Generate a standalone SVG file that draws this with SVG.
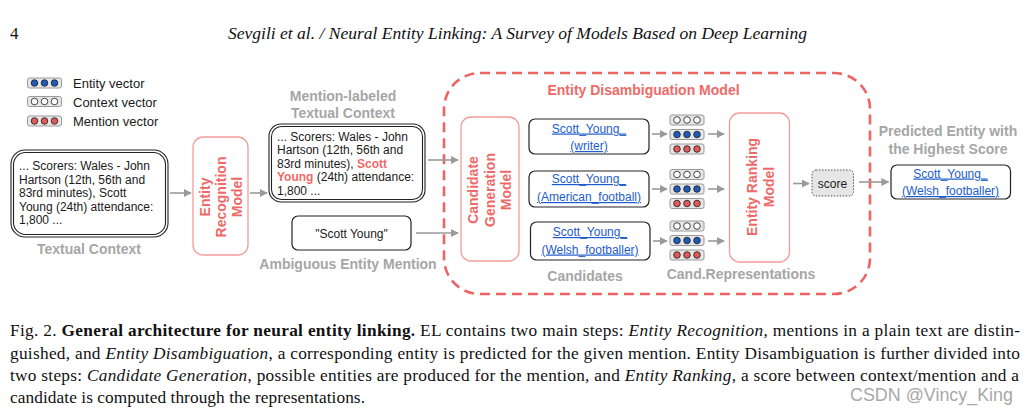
<svg xmlns="http://www.w3.org/2000/svg" width="1030" height="411" viewBox="0 0 1030 411">
<style>
.sans{font-family:"Liberation Sans",Arial,sans-serif}
.serif{font-family:"Liberation Serif","Times New Roman",serif}
.t12{font-size:12px;fill:#1a1a1a}
.lbl{font-family:"Liberation Sans",Arial,sans-serif;font-size:14px;font-weight:bold;fill:#a6a6a6}
.red{fill:#ee6a68}
.rlbl{font-family:"Liberation Sans",Arial,sans-serif;font-size:14px;font-weight:bold;fill:#ee6a68}
.mbox{fill:#fff;stroke:#f29c9a;stroke-width:1.3}
.tbox{fill:#fff;stroke:#222;stroke-width:1.2}
.link{font-family:"Liberation Sans",Arial,sans-serif;font-size:12px;fill:#1d5ccc;text-decoration:underline}
.vb{fill:#e6e6e6;stroke:#9a9a9a;stroke-width:1}
.ce{fill:#1f5bb8;stroke:#1a1a1a;stroke-width:0.8}
.cc{fill:#fff;stroke:#1a1a1a;stroke-width:0.8}
.cm{fill:#e05a5a;stroke:#1a1a1a;stroke-width:0.8}
.arr{stroke:#9a9a9a;stroke-width:1.6;fill:none;marker-end:url(#ah)}
.cap{font-family:"Liberation Serif","Times New Roman",serif;font-size:17.3px;fill:#111}
</style>
<defs>
<marker id="ah" viewBox="0 0 10 10" refX="9" refY="5" markerWidth="5" markerHeight="5" orient="auto" markerUnits="strokeWidth">
<path d="M0,0 L10,5 L0,10 z" fill="#9a9a9a"/>
</marker>
<g id="ve"><rect class="vb" x="0" y="0" width="34" height="10" rx="2"/><circle class="ce" cx="7" cy="5" r="3.3"/><circle class="ce" cx="17" cy="5" r="3.3"/><circle class="ce" cx="27" cy="5" r="3.3"/></g>
<g id="vc"><rect class="vb" x="0" y="0" width="34" height="10" rx="2"/><circle class="cc" cx="7" cy="5" r="3.3"/><circle class="cc" cx="17" cy="5" r="3.3"/><circle class="cc" cx="27" cy="5" r="3.3"/></g>
<g id="vm"><rect class="vb" x="0" y="0" width="34" height="10" rx="2"/><circle class="cm" cx="7" cy="5" r="3.3"/><circle class="cm" cx="17" cy="5" r="3.3"/><circle class="cm" cx="27" cy="5" r="3.3"/></g>
</defs>
<rect width="1030" height="411" fill="#fff"/>

<!-- header -->
<text class="serif" x="10" y="39" font-size="17" fill="#111">4</text>
<text class="serif" x="228" y="39" font-size="17" font-style="italic" fill="#111" textLength="579" lengthAdjust="spacingAndGlyphs">Sevgili et al. / Neural Entity Linking: A Survey of Models Based on Deep Learning</text>

<!-- legend -->
<g id="legend">
<use href="#ve" x="27.5" y="78"/>
<use href="#vc" x="27.5" y="96.5"/>
<use href="#vm" x="27.5" y="116"/>
<text class="sans" x="73" y="88" font-size="13" fill="#1a1a1a">Entity vector</text>
<text class="sans" x="73" y="106.5" font-size="13" fill="#1a1a1a">Context vector</text>
<text class="sans" x="73" y="126" font-size="13" fill="#1a1a1a">Mention vector</text>
</g>

<!-- dashed container -->
<g id="ed-model">
<rect x="444" y="73" width="426" height="221" rx="36" fill="none" stroke="#ee6464" stroke-width="2.6" stroke-dasharray="10 6"/>
<text class="rlbl" x="643.5" y="95" text-anchor="middle">Entity Disambiguation Model</text>
</g>

<!-- textual context -->
<g id="textual-context">
<rect x="11" y="150" width="157" height="87" rx="14" fill="#fff" stroke="#222" stroke-width="1.1"/>
<rect x="13.5" y="152.5" width="152" height="82" rx="12" fill="none" stroke="#222" stroke-width="1.1"/>
<text class="sans t12" x="19" y="170">... Scorers: Wales - John</text>
<text class="sans t12" x="19" y="183.5">Hartson (12th, 56th and</text>
<text class="sans t12" x="19" y="197">83rd minutes), Scott</text>
<text class="sans t12" x="19" y="210.5">Young (24th) attendance:</text>
<text class="sans t12" x="19" y="224">1,800 ...</text>
<text class="lbl" x="89" y="254" text-anchor="middle">Textual Context</text>
</g>

<!-- entity recognition model -->
<g id="er-model">
<rect class="mbox" x="193" y="137" width="55" height="118" rx="10"/>
<g transform="translate(221,197) rotate(-90)">
<text class="rlbl" x="0" y="-16" text-anchor="middle" dominant-baseline="central">Entity</text>
<text class="rlbl" x="0" y="0" text-anchor="middle" dominant-baseline="central">Recognition</text>
<text class="rlbl" x="0" y="16" text-anchor="middle" dominant-baseline="central">Model</text>
</g>
</g>

<!-- mention-labeled context -->
<g id="mention-labeled">
<text class="lbl" x="343" y="101" text-anchor="middle">Mention-labeled</text>
<text class="lbl" x="343" y="117.5" text-anchor="middle">Textual Context</text>
<rect x="269" y="124" width="156" height="78" rx="12" fill="#fff" stroke="#222" stroke-width="1.1"/>
<rect x="271.5" y="126.5" width="151" height="73" rx="10" fill="none" stroke="#222" stroke-width="1.1"/>
<text class="sans t12" x="277" y="140.5">... Scorers: Wales - John</text>
<text class="sans t12" x="277" y="154">Hartson (12th, 56th and</text>
<text class="sans t12" x="277" y="167.5">83rd minutes), <tspan font-weight="bold" class="red">Scott</tspan></text>
<text class="sans t12" x="277" y="181"><tspan font-weight="bold" class="red">Young</tspan> (24th) attendance:</text>
<text class="sans t12" x="277" y="194.5">1,800 ...</text>
</g>

<!-- ambiguous mention -->
<g id="ambiguous-mention">
<rect class="tbox" x="292" y="216" width="119" height="34" rx="6"/>
<text class="sans t12" x="351.5" y="237.5" text-anchor="middle">"Scott Young"</text>
<text class="lbl" x="348" y="269" text-anchor="middle">Ambiguous Entity Mention</text>
</g>

<!-- candidate generation model -->
<g id="cg-model">
<rect class="mbox" x="461" y="117" width="58" height="144" rx="10"/>
<g transform="translate(489.5,190) rotate(-90)">
<text class="rlbl" x="0" y="-16.5" text-anchor="middle" dominant-baseline="central">Candidate</text>
<text class="rlbl" x="0" y="0" text-anchor="middle" dominant-baseline="central">Generation</text>
<text class="rlbl" x="0" y="16.5" text-anchor="middle" dominant-baseline="central">Model</text>
</g>
</g>

<!-- candidates -->
<g id="cand-1">
<rect class="tbox" x="529" y="119" width="120" height="35" rx="6"/>
<text class="link" x="589" y="132.5" text-anchor="middle">Scott_Young_</text>
<text class="link" x="589" y="150" text-anchor="middle">(writer)</text>
</g>
<g id="cand-2">
<rect class="tbox" x="529" y="171" width="120" height="36" rx="6"/>
<text class="link" x="589" y="183" text-anchor="middle">Scott_Young_</text>
<text class="link" x="589" y="201" text-anchor="middle">(American_football)</text>
</g>
<g id="cand-3">
<rect class="tbox" x="530.5" y="222" width="119.5" height="38" rx="6"/>
<text class="link" x="590" y="236" text-anchor="middle">Scott_Young_</text>
<text class="link" x="590" y="253.5" text-anchor="middle">(Welsh_footballer)</text>
</g>
<text class="lbl" x="585" y="281" text-anchor="middle">Candidates</text>

<!-- candidate representations -->
<g id="cand-rep-1">
<use href="#vc" x="670" y="115"/>
<use href="#ve" x="670" y="129.5"/>
<use href="#vm" x="670" y="144"/>
</g>
<g id="cand-rep-2">
<use href="#vc" x="670" y="169.5"/>
<use href="#ve" x="670" y="184"/>
<use href="#vm" x="670" y="198.5"/>
</g>
<g id="cand-rep-3">
<use href="#vc" x="670" y="221"/>
<use href="#ve" x="670" y="235.5"/>
<use href="#vm" x="670" y="250"/>
</g>
<text class="lbl" x="741" y="279" text-anchor="middle">Cand.Representations</text>

<!-- entity ranking model -->
<g id="rank-model">
<rect class="mbox" x="729.5" y="113" width="60" height="149" rx="10"/>
<g transform="translate(760,187) rotate(-90)">
<text class="rlbl" x="0" y="-8.5" text-anchor="middle" dominant-baseline="central">Entity Ranking</text>
<text class="rlbl" x="0" y="8.5" text-anchor="middle" dominant-baseline="central">Model</text>
</g>
</g>

<!-- score -->
<g id="score">
<rect x="812" y="170" width="41.5" height="26" rx="4" fill="#e6e6e6" stroke="#555" stroke-width="1" stroke-dasharray="1.5 1.5"/>
<text class="sans t12" x="832.5" y="187.5" text-anchor="middle">score</text>
</g>

<!-- predicted -->
<g id="predicted">
<text class="lbl" x="948" y="136" text-anchor="middle">Predicted Entity with</text>
<text class="lbl" x="948" y="154" text-anchor="middle">the Highest Score</text>
<rect class="tbox" x="891" y="165" width="119.5" height="34" rx="6"/>
<text class="link" x="950.5" y="177.5" text-anchor="middle">Scott_Young_</text>
<text class="link" x="950.5" y="195" text-anchor="middle">(Welsh_footballer)</text>
</g>

<!-- connectors -->
<g id="connectors">
<line class="arr" x1="170" y1="193" x2="191" y2="193"/>
<line class="arr" x1="250" y1="193" x2="267" y2="193"/>
<line class="arr" x1="428" y1="160" x2="458" y2="160"/>
<line class="arr" x1="416" y1="233" x2="458" y2="233"/>
<line class="arr" x1="652" y1="134" x2="667" y2="134"/>
<line class="arr" x1="652" y1="189" x2="667" y2="189"/>
<line class="arr" x1="653" y1="241" x2="667" y2="241"/>
<line class="arr" x1="708" y1="134" x2="724" y2="134"/>
<line class="arr" x1="708" y1="189" x2="724" y2="189"/>
<line class="arr" x1="708" y1="241" x2="724" y2="241"/>
<line class="arr" x1="793" y1="183.5" x2="809" y2="183.5"/>
<line class="arr" x1="859" y1="182" x2="888.5" y2="182"/>
</g>

<!-- caption -->
<text class="cap" x="10" y="336" textLength="1010" lengthAdjust="spacing">Fig. 2. <tspan font-weight="bold">General architecture for neural entity linking.</tspan> EL contains two main steps: <tspan font-style="italic">Entity Recognition</tspan>, mentions in a plain text are distin-</text>
<text class="cap" x="10" y="358.5" textLength="1010" lengthAdjust="spacing">guished, and <tspan font-style="italic">Entity Disambiguation</tspan>, a corresponding entity is predicted for the given mention. Entity Disambiguation is further divided into</text>
<text class="cap" x="10" y="380.5" textLength="1009" lengthAdjust="spacing">two steps: <tspan font-style="italic">Candidate Generation</tspan>, possible entities are produced for the mention, and <tspan font-style="italic">Entity Ranking</tspan>, a score between context/mention and a</text>
<text class="cap" x="10" y="402.5" textLength="355" lengthAdjust="spacing">candidate is computed through the representations.</text>
<text class="sans" x="850" y="401" font-size="18" fill="#a8a8a8" textLength="163" lengthAdjust="spacingAndGlyphs">CSDN @Vincy_King</text>
</svg>
